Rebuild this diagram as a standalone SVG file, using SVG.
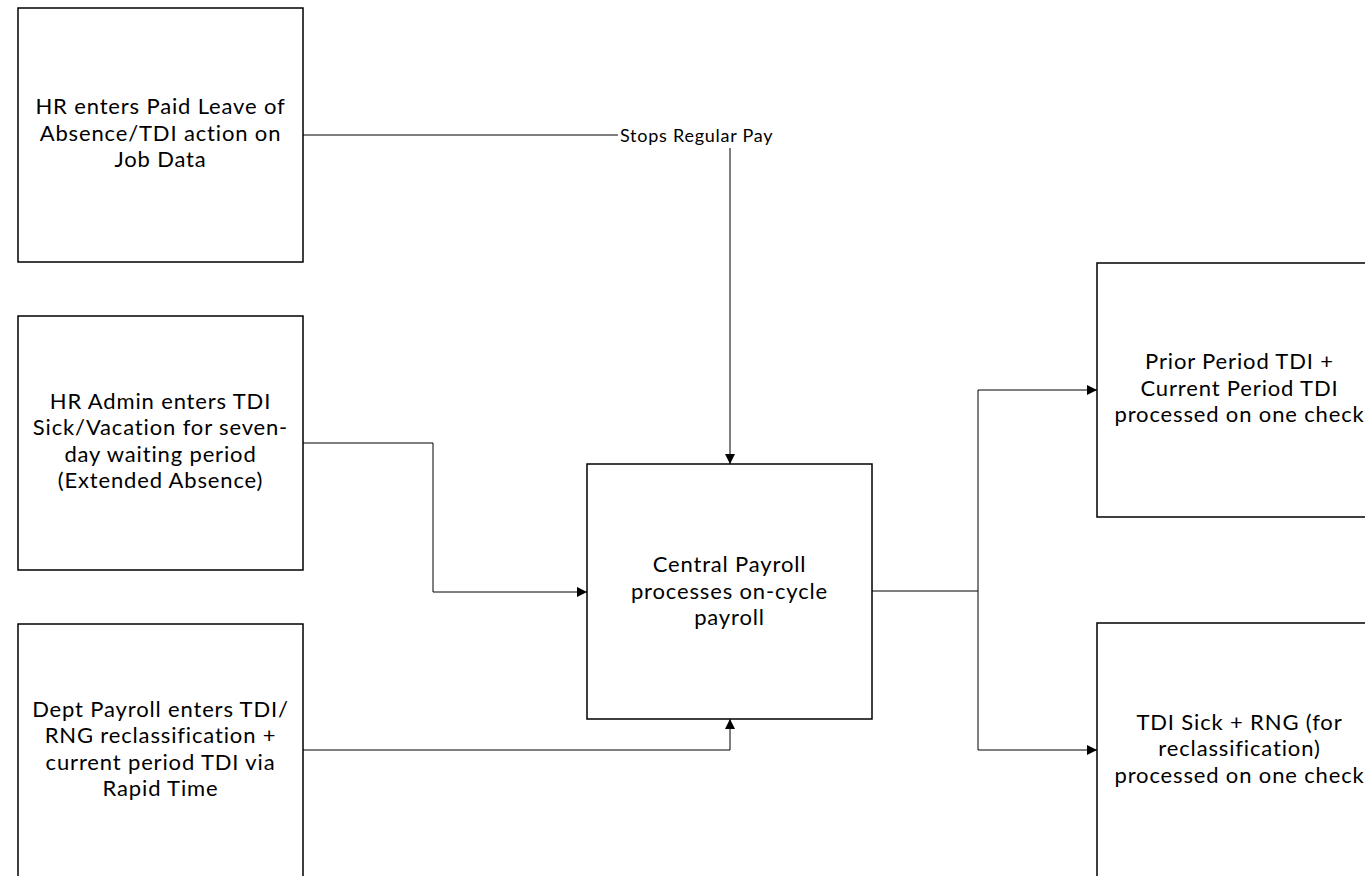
<svg xmlns="http://www.w3.org/2000/svg" width="1365" height="876" viewBox="0 0 1365 876">
<defs>
<marker id="arr" markerWidth="10" markerHeight="10" refX="10" refY="5" orient="auto" markerUnits="userSpaceOnUse">
<path d="M0,0 L10,5 L0,10 Z" fill="#000"/>
</marker>
<style>
.box{fill:#fff;stroke:#000;stroke-width:1.5}
.t{font-family:Lato,"Open Sans",sans-serif;font-size:22px;letter-spacing:0.85px;fill:#000;text-anchor:middle;font-variant-ligatures:none}
.lbl{font-family:Lato,"Open Sans",sans-serif;font-size:18px;letter-spacing:0.75px;fill:#000}
.c{fill:none;stroke:#000;stroke-width:1}
</style>
</defs>
<rect width="1365" height="876" fill="#fff"/>
<g id="connectors">
<path class="c" d="M303,135 H618"/>
<path class="c" d="M730,148 V464" marker-end="url(#arr)"/>
<path class="c" d="M303,443 H433 V592 H587" marker-end="url(#arr)"/>
<path class="c" d="M303,750 H730 V719" marker-end="url(#arr)"/>
<path class="c" d="M872,591 H978 V390 H1097" marker-end="url(#arr)"/>
<path class="c" d="M978,591 V750 H1097" marker-end="url(#arr)"/>
<text class="lbl" x="620" y="142">Stops Regular Pay</text>
</g>
<g id="n1">
<rect class="box" x="18" y="8" width="285" height="254"/>
<text class="t"><tspan x="160.5" y="114">HR enters Paid Leave of</tspan><tspan x="160.5" y="141">Absence/TDI action on</tspan><tspan x="160.5" y="167">Job Data</tspan></text>
</g>
<g id="n2">
<rect class="box" x="18" y="316" width="285" height="254"/>
<text class="t"><tspan x="160.5" y="409">HR Admin enters TDI</tspan><tspan x="160.5" y="435">Sick/Vacation for seven-</tspan><tspan x="160.5" y="462">day waiting period</tspan><tspan x="160.5" y="488">(Extended Absence)</tspan></text>
</g>
<g id="n3">
<rect class="box" x="18" y="624" width="285" height="260"/>
<text class="t"><tspan x="160.5" y="717">Dept Payroll enters TDI/</tspan><tspan x="160.5" y="743">RNG reclassification +</tspan><tspan x="160.5" y="770">current period TDI via</tspan><tspan x="160.5" y="796">Rapid Time</tspan></text>
</g>
<g id="n4">
<rect class="box" x="587" y="464" width="285" height="255"/>
<text class="t"><tspan x="729.5" y="572">Central Payroll</tspan><tspan x="729.5" y="599">processes on-cycle</tspan><tspan x="729.5" y="625">payroll</tspan></text>
</g>
<g id="n5">
<rect class="box" x="1097" y="263" width="285" height="254"/>
<text class="t"><tspan x="1239.5" y="369">Prior Period TDI +</tspan><tspan x="1239.5" y="396">Current Period TDI</tspan><tspan x="1239.5" y="422">processed on one check</tspan></text>
</g>
<g id="n6">
<rect class="box" x="1097" y="623" width="285" height="265"/>
<text class="t"><tspan x="1239.5" y="730">TDI Sick + RNG (for</tspan><tspan x="1239.5" y="756">reclassification)</tspan><tspan x="1239.5" y="783">processed on one check</tspan></text>
</g>
</svg>
